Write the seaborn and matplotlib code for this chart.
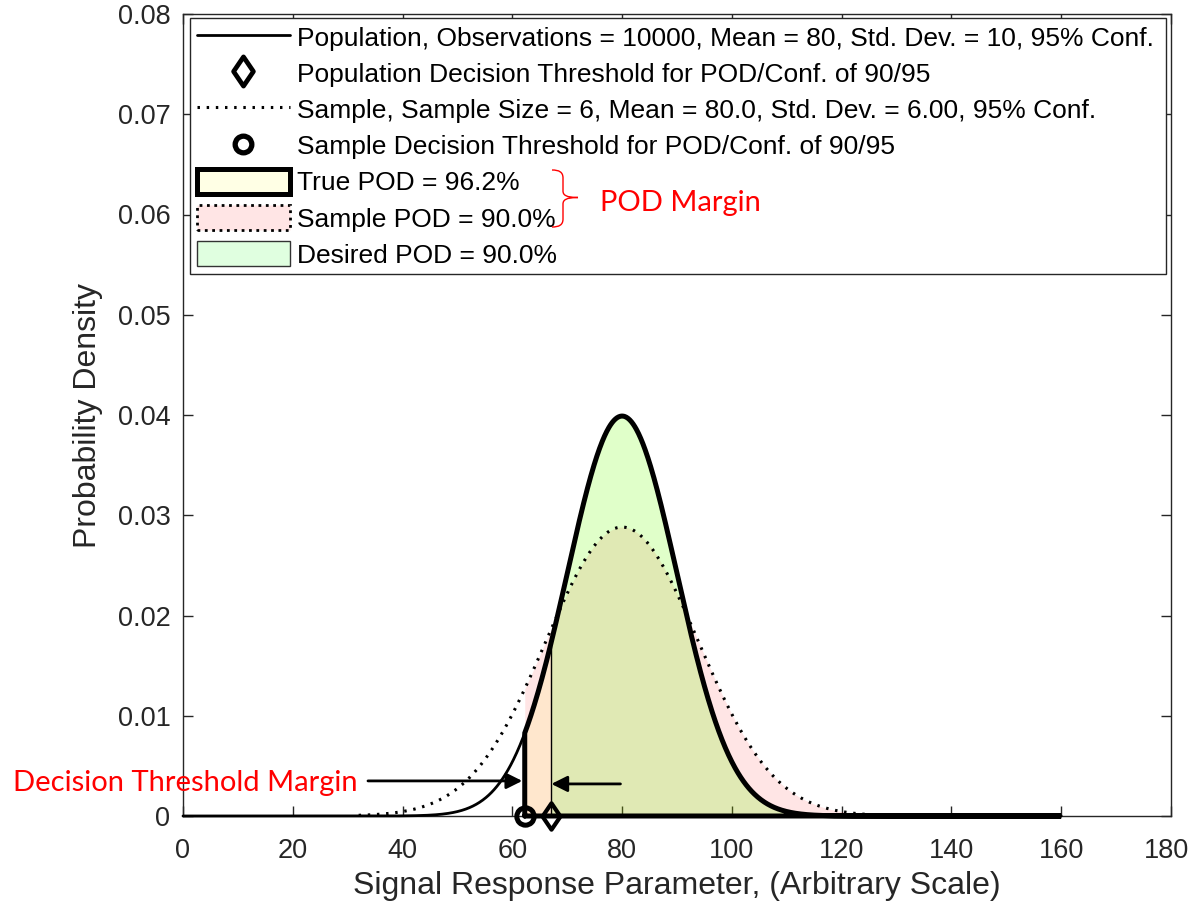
import numpy as np
import pandas as pd
import seaborn as sns
import matplotlib.pyplot as plt
import matplotlib.transforms as mtransforms
from matplotlib.lines import Line2D
from matplotlib.patches import Patch, PathPatch
from matplotlib.path import Path

sns.set_theme(style="white")
plt.rcParams['font.family'] = ['Liberation Sans', 'DejaVu Sans']

# ---- summary statistics -------------------------------------------------
pop_n = 10000
pop_mean = 80.0
pop_sd = 10.0
sample_n = 6
sample_mean = 80.0
sample_sd = 6.00
conf_level = 95
pod_conf = "90/95"

pop_threshold = 66.96      # population decision threshold (90/95)
sample_threshold = 62.26   # sample decision threshold (90/95)

true_pod = 96.2
sample_pod = 90.0
desired_pod = 90.0

pop_range = (0.0, 160.0)      # x extent of the population curve
sample_range = (32.0, 128.0)  # x extent of the sample curve

x_ticks = [0, 20, 40, 60, 80, 100, 120, 140, 160, 180]
y_ticks = [0, 0.01, 0.02, 0.03, 0.04, 0.05, 0.06, 0.07, 0.08]

# ---- densities ----------------------------------------------------------
Z90 = 1.2816  # standard normal 90th percentile
# sample curve is scaled so its 10th percentile sits on the sample threshold
sample_curve_sd = (sample_mean - sample_threshold) / Z90


def normal_pdf(x, mu, sd):
    return np.exp(-0.5 * ((x - mu) / sd) ** 2) / (sd * np.sqrt(2 * np.pi))


x_pop = np.union1d(np.linspace(*pop_range, 1601), [sample_threshold, pop_threshold])
x_smp = np.union1d(np.linspace(*sample_range, 961), [sample_threshold])
pop_df = pd.DataFrame({"x": x_pop, "pdf": normal_pdf(x_pop, pop_mean, pop_sd)})
smp_df = pd.DataFrame({"x": x_smp, "pdf": normal_pdf(x_smp, sample_mean, sample_curve_sd)})

# ---- figure ---------------------------------------------------------------
W, H = 1193, 907
AX_L, AX_R, AX_T, AX_B = 183, 1171, 14, 816
fig = plt.figure(figsize=(W / 100, H / 100), dpi=100)
ax = fig.add_axes([AX_L / W, 1 - AX_B / H, (AX_R - AX_L) / W, (AX_B - AX_T) / H])
AW, AH = AX_R - AX_L, AX_B - AX_T

RED_A, YEL_A, GRN_A = (1, 0, 0, 0.10), (1, 1, 0, 0.10), (0, 1, 0, 0.12)
DOTS = (0, (0.8, 2.2))

# shaded POD regions
s_mask = smp_df["x"] >= sample_threshold
ax.fill_between(smp_df["x"][s_mask], 0, smp_df["pdf"][s_mask], color=RED_A, lw=0, zorder=1)
t_mask = pop_df["x"] >= sample_threshold
ax.fill_between(pop_df["x"][t_mask], 0, pop_df["pdf"][t_mask], color=YEL_A, lw=0, zorder=1)
d_mask = pop_df["x"] >= pop_threshold
ax.fill_between(pop_df["x"][d_mask], 0, pop_df["pdf"][d_mask], color=GRN_A, lw=0, zorder=1)

# density curves
sns.lineplot(data=pop_df, x="x", y="pdf", ax=ax, color="black", lw=2,
             estimator=None, sort=False, clip_on=False, zorder=3)
sns.lineplot(data=smp_df, x="x", y="pdf", ax=ax, color="black", lw=2.2,
             linestyle=DOTS, estimator=None, sort=False, clip_on=False, zorder=3)

# outline of the true-POD region
tx = pop_df["x"][t_mask].to_numpy()
ty = pop_df["pdf"][t_mask].to_numpy()
ax.plot(np.r_[sample_threshold, tx, pop_range[1], sample_threshold],
        np.r_[0, ty, 0, 0], color="black", lw=3.6, clip_on=False, zorder=4,
        solid_joinstyle="miter")
# left edge of the desired-POD region
ax.plot([pop_threshold, pop_threshold], [0, normal_pdf(pop_threshold, pop_mean, pop_sd)],
        color="black", lw=1, zorder=4)

# threshold markers
diamond = Path([(0, 1), (0.68, 0), (0, -1), (-0.68, 0), (0, 1)],
               [Path.MOVETO, Path.LINETO, Path.LINETO, Path.LINETO, Path.CLOSEPOLY])
ax.plot([pop_threshold], [0], marker=diamond, ms=19, mfc="none", mec="black",
        mew=3, ls="none", clip_on=False, zorder=6)
ax.plot([sample_threshold], [0], marker="o", ms=12.5, mfc="none", mec="black",
        mew=3.6, ls="none", clip_on=False, zorder=6)

# ---- axes styling ---------------------------------------------------------
ax.set_xlim(0, 180)
ax.set_ylim(0, 0.08)
ax.set_xticks(x_ticks)
ax.set_yticks(y_ticks)
ax.set_xticklabels([f"{v:g}" for v in x_ticks])
ax.set_yticklabels([f"{v:g}" for v in y_ticks])
for sp in ax.spines.values():
    sp.set_visible(True)
    sp.set_color("#262626")
    sp.set_linewidth(1.0)
ax.tick_params(axis="both", which="both", direction="in", length=7, width=1,
               color="#262626", labelcolor="#262626", labelsize=19.5,
               top=True, right=True, bottom=True, left=True)
ax.tick_params(axis="x", pad=16)
ax.tick_params(axis="y", pad=9)
# keep the last x tick label inside the figure
last = ax.get_xticklabels()[-1]
last.set_transform(last.get_transform() + mtransforms.ScaledTranslation(-5 / 100, 0, fig.dpi_scale_trans))

ax.set_xlabel("Signal Response Parameter, (Arbitrary Scale)", fontsize=23, color="#262626")
ax.set_ylabel("Probability Density", fontsize=23, color="#262626")
ax.xaxis.label.set_va("center")
ax.yaxis.label.set_va("center")
ax.xaxis.set_label_coords((677 - AX_L) / AW, (AX_B - 886) / AH)
ax.yaxis.set_label_coords((88 - AX_L) / AW, (AX_B - 416) / AH)

# ---- legend -----------------------------------------------------------------
handles = [
    Line2D([], [], color="black", lw=2),
    Line2D([], [], ls="none", marker=diamond, ms=21, mfc="none", mec="black", mew=3.4),
    Line2D([], [], color="black", lw=2.2, linestyle=DOTS),
    Line2D([], [], ls="none", marker="o", ms=12, mfc="none", mec="black", mew=3.8),
    Patch(facecolor=YEL_A, edgecolor="black", lw=3.6),
    Patch(facecolor=RED_A, edgecolor="black", lw=2, linestyle=":"),
    Patch(facecolor=GRN_A, edgecolor="#333333", lw=1),
]
labels = [
    f"Population, Observations = {pop_n}, Mean = {pop_mean:.0f}, "
    f"Std. Dev. = {pop_sd:.0f}, {conf_level}% Conf.",
    f"Population Decision Threshold for POD/Conf. of {pod_conf}",
    f"Sample, Sample Size = {sample_n}, Mean = {sample_mean:.1f}, "
    f"Std. Dev. = {sample_sd:.2f}, {conf_level}% Conf.",
    f"Sample Decision Threshold for POD/Conf. of {pod_conf}",
    f"True POD = {true_pod:.1f}%",
    f"Sample POD = {sample_pod:.1f}%",
    f"Desired POD = {desired_pod:.1f}%",
]
leg = ax.legend(handles, labels, loc="upper left",
                bbox_to_anchor=(7 / AW, 1 - 4 / AH, (AW - 12) / AW, 0),
                mode="expand", borderaxespad=0, fontsize=19,
                handlelength=3.55, handleheight=1.05, labelspacing=0.375,
                handletextpad=0.27, borderpad=0.25, fancybox=False,
                framealpha=1, edgecolor="#262626")
leg.get_frame().set_linewidth(1.0)
for t in leg.get_texts():
    t.set_color("black")

# ---- margin annotations ------------------------------------------------------
px = mtransforms.Affine2D().scale(1, -1).translate(0, H)  # figure pixels, top-left origin
note_font = dict(family=["Lato", "DejaVu Sans"], color="red", fontsize=21)

fig.text(13 / W, 1 - 783 / H, "Decision Threshold Margin", ha="left", va="center", **note_font)
fig.text(600 / W, 1 - 203 / H, "POD Margin", ha="left", va="center", **note_font)

arrow = dict(arrowstyle="-|>", color="black", lw=2, mutation_scale=24, shrinkA=0, shrinkB=0)
ax.annotate("", xy=(sample_threshold - 0.45, 0.0035), xytext=(33.7, 0.0035),
            arrowprops=arrow, annotation_clip=False)
ax.annotate("", xy=(pop_threshold + 0.15, 0.0032), xytext=(79.7, 0.0032),
            arrowprops=arrow, annotation_clip=False)

brace = Path(
    [(552, 170), (559, 170), (563, 172), (563, 178),
     (563, 191),
     (563, 195), (566, 197.5), (578, 197.5),
     (566, 197.5), (563, 200), (563, 204),
     (563, 219),
     (563, 225), (559, 227), (552, 227)],
    [Path.MOVETO, Path.CURVE4, Path.CURVE4, Path.CURVE4,
     Path.LINETO,
     Path.CURVE4, Path.CURVE4, Path.CURVE4,
     Path.CURVE4, Path.CURVE4, Path.CURVE4,
     Path.LINETO,
     Path.CURVE4, Path.CURVE4, Path.CURVE4])
fig.add_artist(PathPatch(brace, transform=px, fill=False, edgecolor="red", lw=1))

fig.savefig("out.png", dpi=100, facecolor="white")
